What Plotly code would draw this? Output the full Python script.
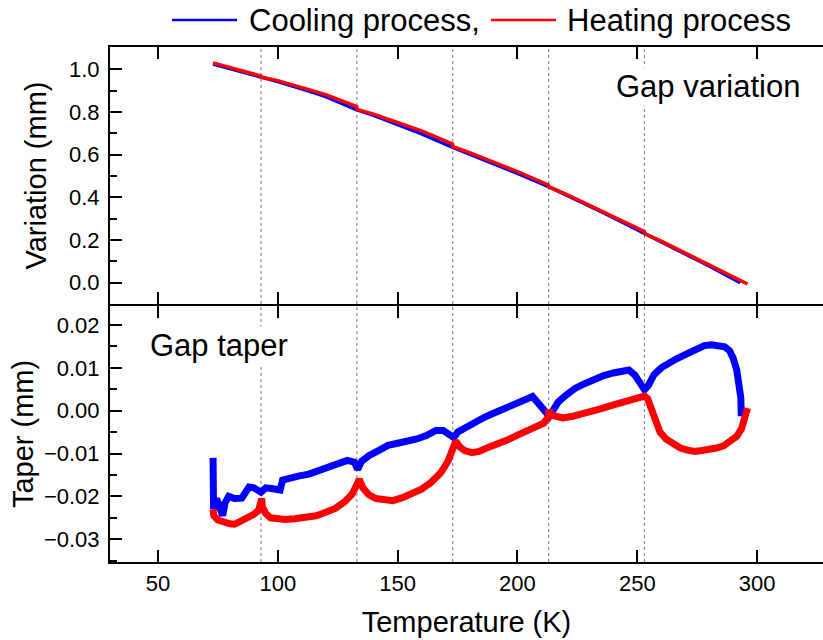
import plotly.graph_objects as go
from plotly.subplots import make_subplots

# ---------------- data ----------------
# Top panel: gap variation (mm)
var_cool_T = [73, 80, 93, 100, 113, 120, 133, 140, 153, 160, 173, 180, 193, 200, 213, 220, 233, 240, 253, 260, 273, 280, 293]
var_cool_v = [1.024, 1.003, 0.963, 0.943, 0.898, 0.872, 0.810, 0.784, 0.728, 0.697, 0.634, 0.603, 0.543, 0.512, 0.450, 0.414, 0.343, 0.305, 0.232, 0.193, 0.118, 0.078, 0.000]

var_heat_T = [73, 80, 92.9, 93.1, 100, 113, 120, 132.9, 133.1, 140, 153, 160, 172.9, 173.1, 180, 193, 200, 212.9, 213.1, 220, 233, 240, 252.9, 253.1, 260, 273, 280, 296]
var_heat_v = [1.030, 1.008, 0.969, 0.963, 0.947, 0.905, 0.881, 0.825, 0.812, 0.790, 0.740, 0.711, 0.650, 0.637, 0.610, 0.553, 0.521, 0.458, 0.449, 0.416, 0.348, 0.310, 0.240, 0.229, 0.195, 0.122, 0.082, -0.006]

# Bottom panel: gap taper (mm)
tap_cool_T = [73.0, 73.2, 74.5, 76.0, 77.0, 78.0, 79.5, 82, 85, 88, 90, 93, 95, 98, 101, 102, 105, 109, 113, 117,
              121, 125, 129, 132, 133.3, 135, 138, 142, 146, 150, 154, 158, 162, 166, 169, 171.5, 173.5, 175, 178, 182,
              186, 190, 194, 198, 202, 206.3, 213.3, 214.5, 217, 220, 224, 228, 232, 236, 240, 244, 246.5, 249, 251, 253,
              254.5, 257, 260, 263, 266, 270, 274, 278, 281, 284, 286.5, 288.5, 290, 291.5, 292.5, 293.2, 293.4]
tap_cool_v = [-0.0110, -0.0230, -0.0205, -0.0235, -0.0245, -0.0215, -0.0200, -0.0205, -0.0204, -0.0178, -0.0180, -0.0190, -0.0180, -0.0182, -0.0185, -0.0162, -0.0157, -0.0152, -0.0148, -0.0140,
              -0.0130, -0.0120, -0.0116, -0.0120, -0.0137, -0.0118, -0.0105, -0.0093, -0.0081, -0.0076, -0.0072, -0.0066, -0.0058, -0.0046, -0.0046, -0.0055, -0.0063, -0.0050, -0.0040, -0.0029,
              -0.0016, -0.0006, 0.0004, 0.0013, 0.0022, 0.0033, -0.0013, -0.0002, 0.0020, 0.0035, 0.0052, 0.0063, 0.0073, 0.0082, 0.0088, 0.0093, 0.0095, 0.0083, 0.0068, 0.0049,
              0.0058, 0.0084, 0.0100, 0.0111, 0.0120, 0.0131, 0.0143, 0.0152, 0.0154, 0.0153, 0.0149, 0.0140, 0.0123, 0.0095, 0.0065, 0.0030, -0.0013]

tap_heat_T = [73.0, 73.3, 75, 77.5, 80, 82, 85, 87.5, 90, 92, 93.3, 93.6, 95, 97, 100, 103, 107, 112, 116, 120,
              124, 128, 131, 133, 134, 135.5, 138, 141, 145, 148, 152, 156, 160, 164, 168, 171, 173, 174.3, 176, 178,
              181, 184, 188, 192, 196, 200, 204, 208, 211, 212.8, 213.3, 214, 216, 219, 223, 227, 231, 235, 239, 243,
              247, 251, 253, 254.3, 256, 257.5, 259.5, 262, 265, 268, 271, 274, 277, 280, 283, 286, 289, 291.5, 293.5, 295, 296]
tap_heat_v = [-0.0230, -0.0245, -0.0255, -0.0261, -0.0264, -0.0265, -0.0258, -0.0250, -0.0242, -0.0232, -0.0205, -0.0225, -0.0240, -0.0250, -0.0253, -0.0254, -0.0252, -0.0250, -0.0245, -0.0237,
              -0.0228, -0.0212, -0.0195, -0.0172, -0.0160, -0.0180, -0.0196, -0.0205, -0.0210, -0.0210, -0.0203, -0.0195, -0.0183, -0.0167, -0.0145, -0.0118, -0.0090, -0.0071, -0.0085, -0.0093,
              -0.0098, -0.0095, -0.0085, -0.0078, -0.0068, -0.0057, -0.0047, -0.0037, -0.0029, -0.0015, 0.0002, -0.0010, -0.0014, -0.0017, -0.0013, -0.0008, -0.0002, 0.0005, 0.0012, 0.0019,
              0.0026, 0.0031, 0.0034, 0.0028, 0.0005, -0.0025, -0.0050, -0.0066, -0.0078, -0.0087, -0.0092, -0.0095, -0.0093, -0.0091, -0.0087, -0.0082, -0.0072, -0.0060, -0.0042, -0.0020, 0.0006]

step_T = [93, 133, 173, 213, 253]
x_ticks = [50, 100, 150, 200, 250, 300]
legend_names = ["Cooling process,", "Heating process"]
colors = ["#0000FF", "#FF0000"]

FONT = "Liberation Sans, Arial, Helvetica, sans-serif"

# ---------------- figure ----------------
fig = make_subplots(rows=2, cols=1, shared_xaxes=True, vertical_spacing=0)

fig.add_trace(go.Scatter(x=var_cool_T, y=var_cool_v, mode="lines", line=dict(color=colors[0], width=3.5),
                         name=legend_names[0], showlegend=False), row=1, col=1)
fig.add_trace(go.Scatter(x=var_heat_T, y=var_heat_v, mode="lines", line=dict(color=colors[1], width=3.5),
                         name=legend_names[1], showlegend=False), row=1, col=1)
fig.add_trace(go.Scatter(x=tap_cool_T, y=tap_cool_v, mode="lines", line=dict(color=colors[0], width=7),
                         name=legend_names[0], showlegend=False), row=2, col=1)
fig.add_trace(go.Scatter(x=tap_heat_T, y=tap_heat_v, mode="lines", line=dict(color=colors[1], width=7),
                         name=legend_names[1], showlegend=False), row=2, col=1)

W, H = 823, 640
L, R, T, B = 110, 0, 47, 78
plot_w = W - L - R
plot_h = H - T - B
bottom_px = H - B          # 562
top_dom_low = (bottom_px - 304) / plot_h   # top panel bottom edge at 304 px
bot_dom_high = (bottom_px - 306) / plot_h  # bottom panel top edge at 306 px

px_per_K = 2.3967
x_range = [30, 30 + plot_w / px_per_K]

axis_common = dict(showline=True, linewidth=2, linecolor="black", ticks="inside", ticklen=12,
                   tickwidth=2, tickcolor="black", showgrid=False, zeroline=False,
                   tickfont=dict(family=FONT, size=22, color="black"))

fig.update_xaxes(range=x_range, tickvals=x_ticks, mirror="ticks", **axis_common)
fig.update_xaxes(showticklabels=False, row=1, col=1)
fig.update_xaxes(title=dict(text="Temperature (K)", font=dict(family=FONT, size=29, color="black"), standoff=16),
                 ticklabelstandoff=1, row=2, col=1)

fig.update_yaxes(mirror=False, **axis_common)
fig.update_yaxes(range=[-0.0998, 1.1045], dtick=0.2, tick0=0, tickformat=".1f",
                 minor=dict(ticks="inside", ticklen=7, tickwidth=2, tickcolor="black", dtick=0.1, tick0=0),
                 title=dict(text="Variation (mm)", font=dict(family=FONT, size=29, color="black"), standoff=14),
                 ticklabelstandoff=4, domain=[top_dom_low, 1], row=1, col=1)
fig.update_yaxes(range=[-0.0353, 0.02443], dtick=0.01, tick0=0, tickformat=".2f",
                 minor=dict(ticks="inside", ticklen=7, tickwidth=2, tickcolor="black", dtick=0.005, tick0=0),
                 title=dict(text="Taper (mm)", font=dict(family=FONT, size=29, color="black"), standoff=2),
                 ticklabelstandoff=4, domain=[0, bot_dom_high], row=2, col=1)

# vertical dotted guide lines
for t in step_T:
    fig.add_shape(type="line", xref="x", yref="paper", x0=t, x1=t, y0=0, y1=1,
                  line=dict(color="#8c8c8c", width=1.2, dash="dot"), layer="below")

def py(ypx):
    return (bottom_px - ypx) / plot_h

def px(xpx):
    return (xpx - L) / plot_w

# panel labels
fig.add_annotation(text="Gap variation", xref="paper", yref="paper", x=px(614), y=py(87),
                   xanchor="left", yanchor="middle", showarrow=False, bgcolor="white",
                   font=dict(family=FONT, size=31, color="black"))
fig.add_annotation(text="Gap taper", xref="paper", yref="paper", x=px(148), y=py(345),
                   xanchor="left", yanchor="middle", showarrow=False, bgcolor="white",
                   font=dict(family=FONT, size=31, color="black"))

# legend (drawn at the top, outside the plot)
leg_y = py(20)
leg_items = [(172, 237, 247), (491, 556, 565)]
for (x0, x1, xt), name, c in zip(leg_items, legend_names, colors):
    fig.add_shape(type="line", xref="paper", yref="paper", x0=px(x0), x1=px(x1), y0=leg_y, y1=leg_y,
                  line=dict(color=c, width=2.5))
    fig.add_annotation(text=name, xref="paper", yref="paper", x=px(xt), y=leg_y,
                       xanchor="left", yanchor="middle", showarrow=False,
                       font=dict(family=FONT, size=31, color="black"))

fig.update_layout(width=W, height=H, margin=dict(l=L, r=R, t=T, b=B, autoexpand=False),
                  paper_bgcolor="white", plot_bgcolor="white", showlegend=False,
                  font=dict(family=FONT, color="black"))

fig.write_html("out.html")
